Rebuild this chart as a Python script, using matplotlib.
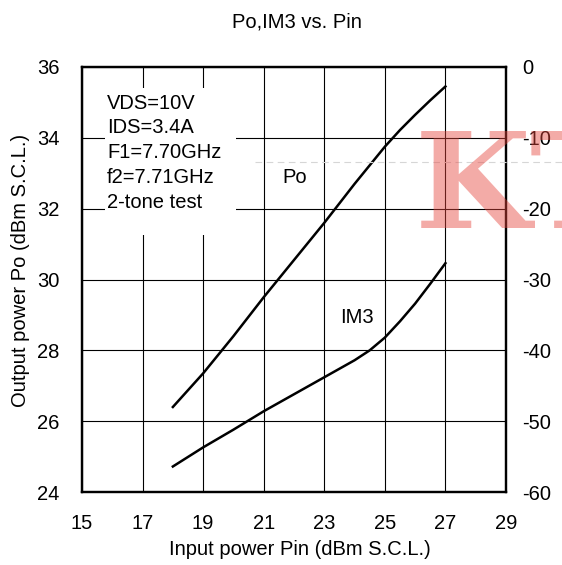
import matplotlib
matplotlib.use("Agg")
import matplotlib.pyplot as plt
from matplotlib.patches import Rectangle
from matplotlib.lines import Line2D

plt.rcParams['font.family'] = ['Liberation Sans', 'DejaVu Sans']
plt.rcParams['axes.unicode_minus'] = False

# ---- data ----
pin_po = [18, 19, 20, 21, 22, 23, 24, 25, 25.5, 26, 26.5, 27]
po = [26.4, 27.35, 28.4, 29.5, 30.55, 31.6, 32.7, 33.75, 34.22, 34.65, 35.06, 35.45]

pin_im3 = [18, 19, 20, 21, 22, 23, 23.5, 24, 24.5, 25, 25.5, 26, 26.5, 27]
im3 = [-56.4, -53.7, -51.2, -48.6, -46.2, -43.8, -42.6, -41.4, -40.0, -38.2, -35.9, -33.4, -30.6, -27.7]

x_ticks = [15, 17, 19, 21, 23, 25, 27, 29]
po_ticks = [24, 26, 28, 30, 32, 34, 36]
im3_ticks = [-60, -50, -40, -30, -20, -10, 0]
info_lines = ["VDS=10V", "IDS=3.4A", "F1=7.70GHz", "f2=7.71GHz", "2-tone test"]

FS = 14.5

fig = plt.figure(figsize=(5.62, 5.65), dpi=100)
ax = fig.add_axes([82/562, 1-492/565, 424/562, 425/565])
ax2 = ax.twinx()

ax.set_xlim(15, 29)
ax.set_ylim(24, 36)
ax2.set_ylim(-60, 0)
ax.set_xticks(x_ticks)
ax.set_yticks(po_ticks)
ax2.set_yticks(im3_ticks)

ax.grid(True, color='black', linewidth=0.8, zorder=0.5)
ax.set_axisbelow(True)

for a in (ax, ax2):
    for s in a.spines.values():
        s.set_linewidth(1.6)
ax.tick_params(axis='both', length=0, labelsize=FS)
ax.tick_params(axis='x', pad=16)
ax.tick_params(axis='y', pad=16)
ax2.tick_params(axis='y', length=0, labelsize=FS, pad=11.5)

# white info box hiding the grid
ax.add_patch(Rectangle((15.76, 31.26), 4.32, 4.15, facecolor='white',
                       edgecolor='none', zorder=1))
for i, t in enumerate(info_lines):
    ax.text(15.83, 34.98 - i*0.70, t, fontsize=FS, va='center', ha='left', zorder=3)

ax.plot(pin_po, po, color='black', linewidth=1.8, zorder=2,
        solid_joinstyle='round')
ax2.plot(pin_im3, im3, color='black', linewidth=1.8, zorder=2,
         solid_joinstyle='round')

ax.text(22.03, 32.87, "Po", fontsize=FS, ha='center', va='center')
ax.text(24.08, 28.92, "IM3", fontsize=FS, ha='center', va='center')

ax.set_xlabel("Input power Pin (dBm S.C.L.)", fontsize=FS)
ax.xaxis.set_label_coords(0.514, -0.113)
ax.set_ylabel("Output power Po (dBm S.C.L.)", fontsize=FS)
ax.yaxis.set_label_coords(-0.123, 0.522)
ax2.set_ylabel("IM3 (dBc S.C.L.)", fontsize=FS)
ax2.yaxis.set_label_coords(1.136, 0.52)

fig.text(297/562, 1-27.3/565, "Po,IM3 vs. Pin", fontsize=FS, ha='center', va='baseline')

# watermark
fig.add_artist(Line2D([255/562, 1.0], [1-162/565, 1-162/565], transform=fig.transFigure,
                      color='#d6d6d6', linewidth=0.8, linestyle=(0, (6, 4))))
fig.text(415/562, 1-228/565, "KT", fontsize=96, family='DejaVu Serif', weight='bold',
         color=(0.90, 0.27, 0.24), alpha=0.45, ha='left', va='baseline')

fig.savefig("out.png", dpi=100)
